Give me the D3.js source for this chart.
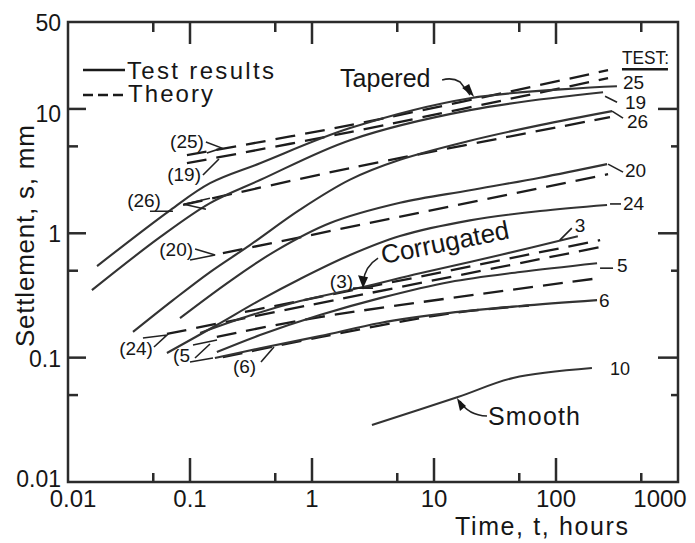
<!DOCTYPE html>
<html lang="en">
<head>
<meta charset="UTF-8">
<title>Settlement vs time</title>
<script src="https://d3js.org/d3.v7.min.js"></script>
<style>
  body { margin: 0; background: #fff; }
  svg { display: block; font-family: "Liberation Sans", Arial, sans-serif; }
  .frame { fill: none; stroke: #2b2b2b; stroke-width: 2.5px; }
  .tick { stroke: #2b2b2b; stroke-width: 2.5px; }
  .test { fill: none; stroke: #333; stroke-width: 2.1px; }
  .theory { fill: none; stroke: #1c1c1c; stroke-width: 2.3px; stroke-dasharray: 20,10; }
  .lead { fill: none; stroke: #222; stroke-width: 1.6px; }
  text { fill: #161616; }
</style>
</head>
<body>
<div id="chart"></div>
<script>
// axis ticks
const xMajor = [0.1, 1, 10, 100];
const xMinor = [0.05, 0.5, 5, 50, 500];
const xLabels = [0.01, 0.1, 1, 10, 100, 1000];
const yMajor = [0.1, 1, 10];
const yMinor = [0.05, 0.5, 5];
const yLabels = [0.01, 0.1, 1, 10, 50];

// test results: [time (h), settlement (mm)]
const test25 = [[0.0173,0.545],[0.0686,1.53],[0.146,2.53],[0.375,3.66],[2.05,7.01],[19.7,12.2],[316,15.2]];
const test19 = [[0.0157,0.349],[0.0568,0.931],[0.146,1.75],[0.375,2.68],[2.05,5.61],[19.7,9.78],[243,13.6]];
const test26 = [[0.0341,0.161],[0.0726,0.290],[0.146,0.488],[0.310,0.804],[0.798,1.55],[2.05,2.70],[5.26,3.90],[19.7,5.55],[74,7.41],[288,9.60]];
const test20 = [[0.0828,0.208],[0.213,0.413],[0.516,0.733],[1.41,1.21],[5.26,1.76],[19.7,2.22],[74,2.80],[262,3.60]];
const test24 = [[0.0647,0.109],[0.166,0.183],[0.375,0.290],[0.798,0.429],[2.05,0.668],[5.26,0.950],[19.7,1.27],[74,1.51],[262,1.69]];
const test3 = [[0.121,0.158],[0.310,0.218],[0.798,0.285],[2.62,0.370],[7.67,0.478],[34.8,0.668],[151,0.948]];
const test5 = [[0.166,0.111],[0.375,0.152],[1.16,0.220],[3.61,0.301],[13.5,0.406],[50.7,0.488],[217,0.575]];
const test6 = [[0.160,0.0993],[0.375,0.119],[1.16,0.149],[3.61,0.190],[13.5,0.229],[50.7,0.260],[217,0.290]];
const test10 = [[3.1,0.0287],[15.7,0.0482],[44.5,0.0686],[197,0.0825]];

// theory
const theory25 = [[0.0944,4.25],[2.05,7.41],[267,20.5]];
const theory19 = [[0.0944,3.66],[2.05,6.51],[267,17.7]];
const theory26 = [[0.0877,1.69],[2.05,3.34],[277,8.59]];
const theory20 = [[0.186,0.693],[267,2.99]];
const theory24 = [[0.0647,0.155],[0.282,0.208],[230,0.774]];
const theory3 = [[0.282,0.233],[230,0.881]];
const theory5 = [[0.166,0.147],[1.16,0.212],[230,0.437]];
const theory6 = [[0.186,0.101],[1.16,0.146],[13.5,0.227],[60,0.262]];

const tests = [["25",test25],["19",test19],["26",test26],["20",test20],["24",test24],["3",test3],["5",test5],["6",test6],["10",test10]];
const theories = [theory25, theory19, theory26, theory20, theory24, theory3, theory5, theory6];

const width = 695, height = 543;
const x = d3.scaleLog().domain([0.01, 1000]).range([68, 678]);
const y = d3.scaleLog().domain([0.01, 50]).range([482, 22]);

const svg = d3.select("#chart").append("svg")
    .attr("width", width)
    .attr("height", height);

const line = d3.line()
    .x(d => x(d[0]))
    .y(d => y(d[1]))
    .curve(d3.curveCatmullRom.alpha(0.5));

// frame
svg.append("rect").attr("class", "frame")
    .attr("x", x(0.01)).attr("y", y(50))
    .attr("width", x(1000) - x(0.01)).attr("height", y(0.01) - y(50));

// ticks, all pointing inwards
function xTicks(vals, lenB, lenT) {
    vals.forEach(v => {
        svg.append("line").attr("class", "tick")
            .attr("x1", x(v)).attr("x2", x(v))
            .attr("y1", y(0.01)).attr("y2", y(0.01) - lenB);
        svg.append("line").attr("class", "tick")
            .attr("x1", x(v)).attr("x2", x(v))
            .attr("y1", y(50)).attr("y2", y(50) + lenT);
    });
}
function yTicks(vals, lenL, lenR) {
    vals.forEach(v => {
        svg.append("line").attr("class", "tick")
            .attr("x1", x(0.01)).attr("x2", x(0.01) + lenL)
            .attr("y1", y(v)).attr("y2", y(v));
        svg.append("line").attr("class", "tick")
            .attr("x1", x(1000)).attr("x2", x(1000) - lenR)
            .attr("y1", y(v)).attr("y2", y(v));
    });
}
xTicks(xMajor, 24, 22);
xTicks(xMinor, 9, 10);
yTicks(yMajor, 18, 20);
yTicks(yMinor, 10, 7);

// tick labels
const fmt = v => String(v);
svg.selectAll(".xl").data(xLabels).enter().append("text")
    .attr("x", d => x(d) + (d === 0.01 ? 5 : d === 1000 ? -18 : 0))
    .attr("y", y(0.01) + 25)
    .attr("text-anchor", "middle")
    .style("font-size", "24px")
    .text(fmt);

svg.selectAll(".yl").data(yLabels).enter().append("text")
    .attr("x", x(0.01) - 7)
    .attr("y", d => y(d) + (d === 0.01 ? 5 : d === 10 ? 13 : 9))
    .attr("text-anchor", "end")
    .style("font-size", "23px")
    .text(fmt);

// axis titles
svg.append("text")
    .attr("x", 455).attr("y", 535)
    .attr("textLength", 173).attr("lengthAdjust", "spacing")
    .style("font-size", "25px")
    .text("Time, t, hours");

svg.append("text")
    .attr("transform", "translate(34,236) rotate(-90)")
    .attr("text-anchor", "middle")
    .attr("textLength", 222).attr("lengthAdjust", "spacing")
    .style("font-size", "26px")
    .text("Settlement, s, mm");

// curves
svg.selectAll(".theory").data(theories).enter().append("path")
    .attr("class", "theory")
    .attr("d", line);

svg.selectAll(".test").data(tests).enter().append("path")
    .attr("class", "test")
    .attr("d", d => line(d[1]));

// labels at the end of each test curve
const endLabels = {
    "25": { dx: 6, dy: 3 },
    "19": { dx: 22, dy: 17, lead: "M2,4 L14,10" },
    "26": { dx: 15, dy: 17, lead: "M0,0 L11,7" },
    "20": { dx: 18, dy: 13, lead: "M1,0 L16,8" },
    "24": { dx: 16, dy: 5, lead: "M3,-1 L14,-1" },
    "3":  { dx: -3, dy: -4, lead: "M-18,4 L-6,-8" },
    "5":  { dx: 20, dy: 9, lead: "M3,5 L16,5" },
    "6":  { dx: 2, dy: 7 },
    "10": { dx: 18, dy: 7 }
};
tests.forEach(([id, pts]) => {
    const last = pts[pts.length - 1];
    const px = x(last[0]), py = y(last[1]);
    const o = endLabels[id];
    const g = svg.append("g").attr("transform", `translate(${px},${py})`);
    if (o.lead) g.append("path").attr("class", "lead").attr("d", o.lead);
    g.append("text").attr("x", o.dx).attr("y", o.dy)
        .style("font-size", id === "10" ? "18px" : "19px")
        .text(id);
});

// TEST: heading above the column of labels
const top25 = test25[test25.length - 1];
const hg = svg.append("g").attr("transform", `translate(${x(top25[0])},${y(top25[1])})`);
hg.append("text").attr("x", 5).attr("y", -22)
    .attr("textLength", 47).attr("lengthAdjust", "spacingAndGlyphs")
    .style("font-size", "19px").text("TEST:");
hg.append("line").attr("x1", 5).attr("x2", 51).attr("y1", -17).attr("y2", -17)
    .attr("stroke", "#1a1a1a").attr("stroke-width", 2.5);

// bracketed theory labels, anchored at a data point with a small leader
const notes = [
    { text: "(25)", t: 0.130, s: 4.84, anchor: "end", lead: "M2,-6 L18,0 L3,5" },
    { text: "(19)", t: 0.123, s: 2.63, anchor: "end", lead: "M2,-6 L18,-22" },
    { text: "(26)", t: 0.0578, s: 1.62, anchor: "end", lead: "M-11,4 L12,4 M49,-9 L23,-3 L45,2" },
    { text: "(20)", t: 0.106, s: 0.657, anchor: "end", lead: "M2,-7 L22,-1 L-3,4" },
    { text: "(24)", t: 0.0497, s: 0.105, anchor: "end", lead: "M-10,-17 L14,-20 L1,-8" },
    { text: "(5", t: 0.100, s: 0.0922, anchor: "end", lead: "M3,-17 L27,-22 M5,-4 L20,-18 M0,0 L23,-4" },
    { text: "(6)", t: 0.225, s: 0.0752, anchor: "start", lead: "M28,-11 L41,-26" },
    { text: "(3)", t: 2.17, s: 0.362, anchor: "end", lead: "M0,0 L20,0 M25,-30 Q12,-22 10,-6" }
];
notes.forEach(n => {
    const g = svg.append("g").attr("transform", `translate(${x(n.t)},${y(n.s)})`);
    g.append("path").attr("class", "lead").attr("d", n.lead);
    g.append("text").attr("text-anchor", n.anchor)
        .style("font-size", "19px").text(n.text);
});
// arrowhead under "Corrugated"
svg.append("path")
    .attr("transform", `translate(${x(2.17)},${y(0.362)})`)
    .attr("d", "M5,-13 L15,-11 L10,0 Z").attr("fill", "#161616");

// group names
svg.append("text")
    .attr("transform", `translate(${x(1.70)},${y(15.0)})`)
    .style("font-size", "25px").text("Tapered");
const tg = svg.append("g").attr("transform", `translate(${x(1.70)},${y(15.0)})`);
tg.append("path").attr("class", "lead").attr("d", "M102,-7 Q112,-10 120,-5 L130,8");
tg.append("path").attr("d", "M122,1 L129,-3 L134,10 Z").attr("fill", "#161616");

svg.append("text")
    .attr("transform", `translate(${x(3.82)},${y(0.565)}) rotate(-11.5)`)
    .style("font-size", "26px").text("Corrugated");

svg.append("text")
    .attr("x", x(27.7)).attr("y", y(0.0287))
    .attr("textLength", 92).attr("lengthAdjust", "spacing")
    .style("font-size", "25px").text("Smooth");
const sg = svg.append("g").attr("transform", `translate(${x(27.7)},${y(0.0287)})`);
sg.append("path").attr("class", "lead").attr("d", "M-1,-9 Q-20,-10 -28,-24");
sg.append("path").attr("d", "M-31,-27 L-22,-19 L-28,-14 Z").attr("fill", "#161616");

// legend
const lg = svg.append("g").attr("transform", "translate(83,70)");
lg.append("line").attr("x1", 0).attr("x2", 42).attr("y1", 0).attr("y2", 0)
    .attr("stroke", "#1a1a1a").attr("stroke-width", 2.6);
lg.append("text").attr("x", 44).attr("y", 9)
    .attr("textLength", 147).attr("lengthAdjust", "spacing")
    .style("font-size", "24px").text("Test results");
lg.append("line").attr("x1", 0).attr("x2", 42).attr("y1", 25).attr("y2", 25)
    .attr("stroke", "#1a1a1a").attr("stroke-width", 2.6).attr("stroke-dasharray", "10,5");
lg.append("text").attr("x", 45).attr("y", 32)
    .attr("textLength", 85).attr("lengthAdjust", "spacing")
    .style("font-size", "24px").text("Theory");
</script>
</body>
</html>
